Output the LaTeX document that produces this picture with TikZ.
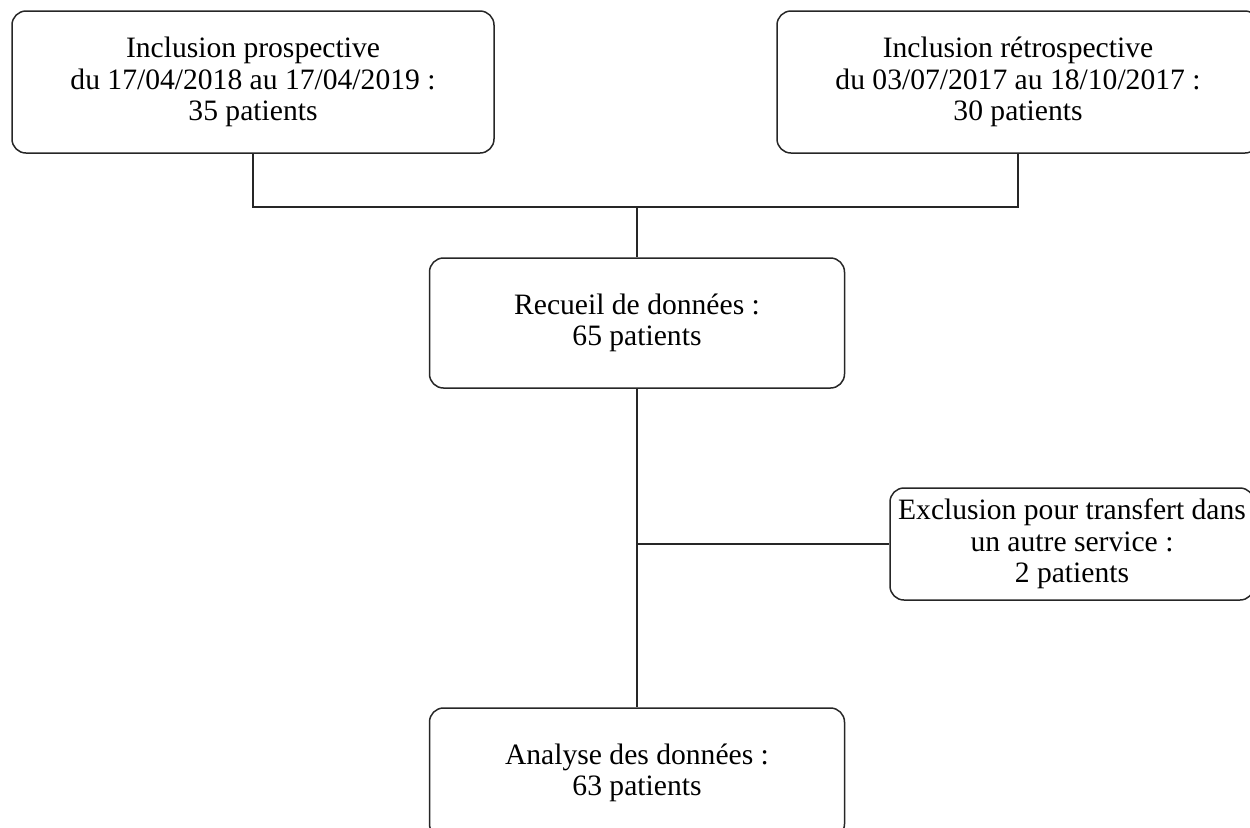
\documentclass[tikz,border=0pt]{standalone}
\usepackage{fontspec}
\setmainfont{Liberation Serif}
\usepackage{tikz}
\usetikzlibrary{positioning}

\begin{document}
\begin{tikzpicture}[x=0.5pt, y=-0.5pt, every node/.style={font=\fontsize{14.8}{15.7}\selectfont},
    box/.style={rectangle, draw=black!85, line width=0.75pt, rounded corners=7pt, align=center, inner sep=2pt},
    link/.style={draw=black!85, line width=0.75pt}]
    \useasboundingbox (0,0) rectangle (1250,827);
    \node[box, minimum width=241pt, minimum height=71pt] (prosp) at (253,82) {Inclusion prospective\\du 17/04/2018 au 17/04/2019 :\\35 patients};
    \node[box, minimum width=241pt, minimum height=71pt] (retro) at (1018,82) {Inclusion rétrospective\\du 03/07/2017 au 18/10/2017 :\\30 patients};
    \node[box, minimum width=207.5pt, minimum height=65pt] (recueil) at (637,323) {Recueil de données :\\65 patients};
    \node[box, minimum width=182pt, minimum height=56pt] (excl) at (1072,544) {Exclusion pour transfert dans\\un autre service :\\2 patients};
    \node[box, minimum width=207.5pt, minimum height=65pt] (analyse) at (637,773) {Analyse des données :\\63 patients};
    \coordinate (join) at (637,207);
    \coordinate (branch) at (637,544);
    \draw[link] (prosp.south) |- (join) -| (retro.south);
    \draw[link] (join) -- (recueil.north);
    \draw[link] (recueil.south) -- (analyse.north);
    \draw[link] (branch) -- (excl.west);
\end{tikzpicture}
\end{document}
